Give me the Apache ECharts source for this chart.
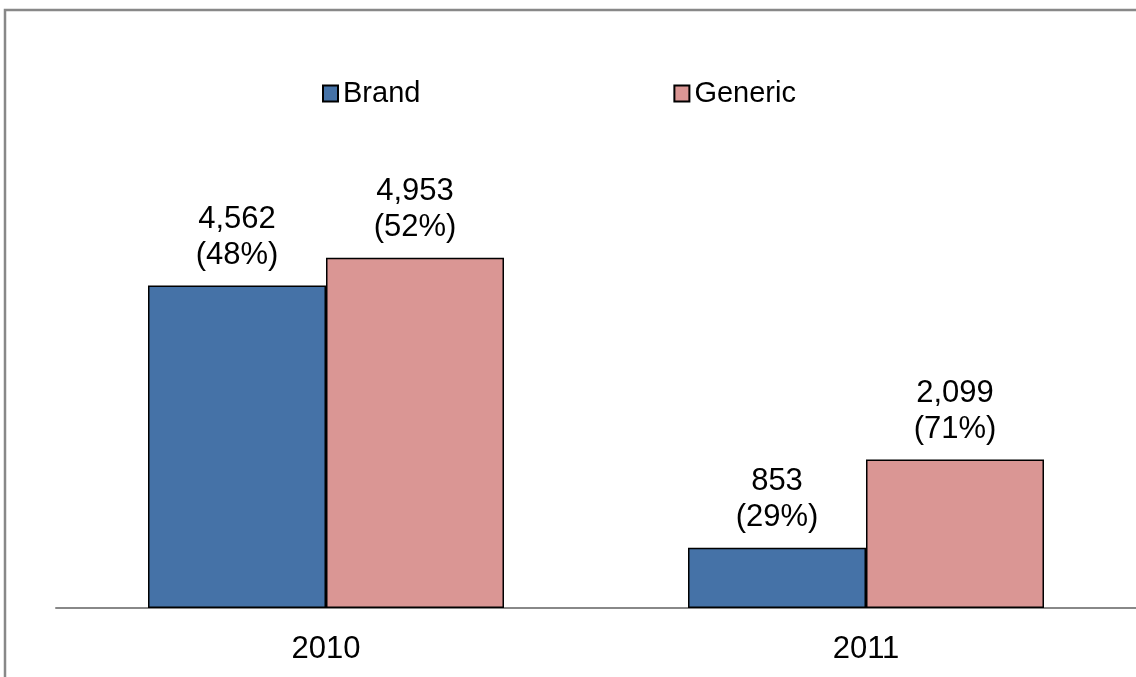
<!DOCTYPE html>
<html lang="en">
<head>
    <meta charset="UTF-8">
    <title>Brand vs Generic</title>
    <script src="https://cdn.jsdelivr.net/npm/echarts@6/dist/echarts.min.js"></script>
    <style>
        html, body { margin: 0; padding: 0; background: #fff; }
    </style>
</head>
<body>
    <div id="main" style="width: 1136px;height:677px;"></div>
    <script>
        var years = ['2010', '2011'];
        var brandValues = [4562, 853];
        var brandPct = [48, 29];
        var genericValues = [4953, 2099];
        var genericPct = [52, 71];

        var font = '"Liberation Sans", Arial, sans-serif';

        // label: value with thousands separator, share on second line
        function makeLabel(pct) {
            return function (p) {
                return p.value.toLocaleString('en-US') + '\n(' + pct[p.dataIndex] + '%)';
            };
        }

        var labelStyle = {
            show: true,
            position: 'top',
            distance: 12,
            color: '#000',
            fontFamily: font,
            fontSize: 31,
            lineHeight: 36
        };

        var myChart = echarts.init(document.getElementById('main'));
        myChart.setOption({
            animation: false,
            textStyle: { fontFamily: font },
            graphic: [{
                type: 'rect',
                shape: { x: 5, y: 10, width: 1200, height: 720 },
                style: { fill: 'none', stroke: '#888', lineWidth: 2.5 },
                silent: true
            }],
            legend: {
                top: 79,
                left: 322,
                padding: 0,
                itemWidth: 15,
                itemHeight: 16,
                itemGap: 253,
                icon: 'rect',
                textStyle: { fontSize: 29, color: '#000', fontFamily: font },
                data: ['Brand', 'Generic']
            },
            grid: { left: 56, right: 0, top: 113, bottom: 69 },
            xAxis: {
                type: 'category',
                data: years,
                axisLine: { lineStyle: { color: '#888', width: 2 } },
                axisTick: { show: false },
                axisLabel: { color: '#000', fontSize: 31, fontFamily: font, margin: 26 }
            },
            yAxis: {
                type: 'value',
                min: 0,
                max: 7000,
                show: false,
                splitLine: { show: false }
            },
            series: [{
                name: 'Brand',
                type: 'bar',
                barWidth: 178,
                barGap: '0%',
                itemStyle: { color: '#4572A7', borderColor: '#000', borderWidth: 1.5 },
                label: Object.assign({}, labelStyle, { formatter: makeLabel(brandPct) }),
                data: brandValues
            }, {
                name: 'Generic',
                type: 'bar',
                barWidth: 178,
                barGap: '0%',
                itemStyle: { color: '#DA9694', borderColor: '#000', borderWidth: 1.5 },
                label: Object.assign({}, labelStyle, { formatter: makeLabel(genericPct) }),
                data: genericValues
            }]
        });
    </script>
</body>
</html>
